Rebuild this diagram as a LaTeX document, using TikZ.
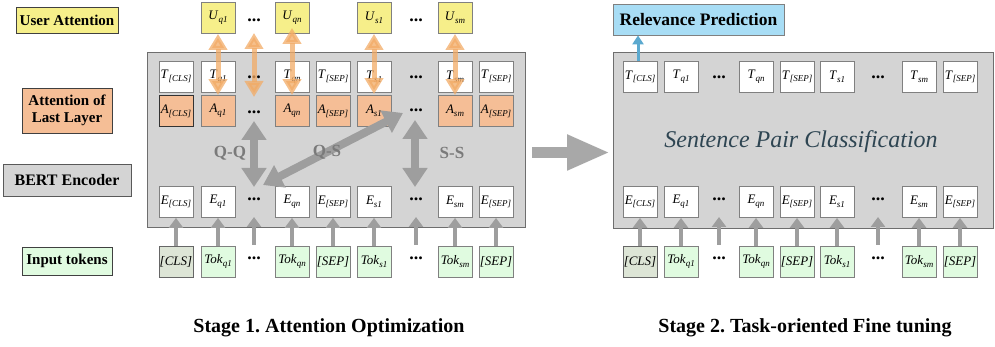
\documentclass[tikz,border=0pt]{standalone}
\usepackage{fontspec}
\setmainfont{Liberation Serif}
\usetikzlibrary{arrows.meta}
\frenchspacing
\definecolor{panelfill}{HTML}{D4D4D4}
\definecolor{panelborder}{HTML}{6E6E6E}
\definecolor{cellborder}{HTML}{808080}
\definecolor{ufill}{HTML}{F6EF8A}
\definecolor{afill}{HTML}{F5BE96}
\definecolor{tokfill}{HTML}{E0FBE0}
\definecolor{clsfill}{HTML}{DDE5D6}
\definecolor{bluefill}{HTML}{A8DDF5}
\definecolor{bluearrow}{HTML}{5BA9CF}
\definecolor{orangearrow}{RGB}{242,171,102}
\definecolor{grayarrow}{HTML}{9E9E9E}
\definecolor{biggray}{HTML}{A8A8A8}
\definecolor{qlabel}{HTML}{7A7A7A}
\definecolor{spc}{HTML}{2E4552}
\newcommand\sbx[2]{\textit{#1}\raisebox{-0.45ex}{\fontsize{9}{9}\selectfont\textit{#2}}}
\newcommand\dts{\textbf{...}}
\begin{document}
\begin{tikzpicture}[x=1pt,y=-1pt,
  panel/.style={draw=panelborder,fill=panelfill,line width=1.3pt},
  cell/.style={draw=cellborder,line width=0.8pt,minimum width=34pt,minimum height=31pt,inner sep=0pt,font=\fontsize{13}{15}\selectfont},
  tcell/.style={cell,fill=white},
  acell/.style={cell,fill=afill},
  ucell/.style={cell,fill=ufill},
  tokcell/.style={cell,fill=tokfill,font=\fontsize{13}{15}\selectfont},
  lbl/.style={draw=black!75,line width=0.8pt,inner sep=0pt,align=center,font=\bfseries\fontsize{15}{16}\selectfont},
  dotsn/.style={inner sep=0pt,font=\fontsize{18}{18}\selectfont},
  orarr/.style={draw=orangearrow,opacity=0.75,line width=5pt,{Triangle[width=18pt,length=16pt]}-{Triangle[width=18pt,length=16pt]}},
  bigarr/.style={draw=grayarrow,line width=8pt,{Triangle[width=24pt,length=19pt]}-{Triangle[width=24pt,length=19pt]}},
  uparr/.style={draw=grayarrow,line width=4.5pt,-{Triangle[width=14pt,length=10pt]}},
  qq/.style={text=qlabel,font=\bfseries\fontsize{17}{17}\selectfont},
  caption/.style={font=\bfseries\fontsize{20}{22}\selectfont}
]
\useasboundingbox (0,0) rectangle (995,347);

% panels
\node[panel,minimum width=378pt,minimum height=175pt,inner sep=0pt,anchor=north west] (P1) at (147,52) {};
\node[panel,minimum width=380pt,minimum height=176pt,inner sep=0pt,anchor=north west] (P2) at (613,52) {};

% left labels
\node[lbl,fill=ufill,minimum width=102pt,minimum height=26pt] (LU) at (67,20) {User Attention};
\node[lbl,fill=afill,minimum width=90pt,minimum height=45pt,font=\bfseries\fontsize{15}{16.5}\selectfont] (LA) at (67,110.5) {Attention of\\Last Layer};
\node[lbl,fill=panelfill,draw=black!65,minimum width=128pt,minimum height=32pt,font=\bfseries\fontsize{16}{17}\selectfont] (LB) at (67,180) {BERT Encoder};
\node[lbl,fill=tokfill,minimum width=90pt,minimum height=28pt] (LI) at (67,261) {Input tokens};

% ---------- Stage 1 ----------
% U row
\node[ucell] (Uq1) at (218,18) {\sbx{U}{q1}};
\node[ucell] (Uqn) at (292,18) {\sbx{U}{qn}};
\node[ucell] (Us1) at (374,18) {\sbx{U}{s1}};
\node[ucell] (Usm) at (455,18) {\sbx{U}{sm}};
\node[dotsn] (Ud1) at (254,20) {\dts};
\node[dotsn] (Ud2) at (416,20) {\dts};

% T row
\node[tcell] (TCLS) at (176,76.5) {\sbx{T}{[CLS]}};
\node[tcell] (Tq1) at (218,76.5) {\sbx{T}{q1}};
\node[tcell] (Tqn) at (292,76.5) {\sbx{T}{qn}};
\node[tcell] (TSEPa) at (333,76.5) {\sbx{T}{[SEP]}};
\node[tcell] (Ts1) at (374,76.5) {\sbx{T}{s1}};
\node[tcell] (Tsm) at (455,76.5) {\sbx{T}{sm}};
\node[tcell] (TSEPb) at (496,76.5) {\sbx{T}{[SEP]}};
\node[dotsn] (Td1) at (254,77) {\dts};
\node[dotsn] (Td2) at (416,77) {\dts};

% A row
\node[acell,draw=black!80] (ACLS) at (176,111) {\sbx{A}{[CLS]}};
\node[acell] (Aq1) at (218,111) {\sbx{A}{q1}};
\node[acell] (Aqn) at (292,111) {\sbx{A}{qn}};
\node[acell] (ASEPa) at (333,111) {\sbx{A}{[SEP]}};
\node[acell] (As1) at (374,111) {\sbx{A}{s1}};
\node[acell] (Asm) at (455,111) {\sbx{A}{sm}};
\node[acell] (ASEPb) at (496,111) {\sbx{A}{[SEP]}};
\node[dotsn] (Ad1) at (254,112) {\dts};
\node[dotsn] (Ad2) at (416,110) {\dts};

% E row
\node[tcell] (ECLS) at (176,202) {\sbx{E}{[CLS]}};
\node[tcell] (Eq1) at (218,202) {\sbx{E}{q1}};
\node[tcell] (Eqn) at (292,202) {\sbx{E}{qn}};
\node[tcell] (ESEPa) at (333,202) {\sbx{E}{[SEP]}};
\node[tcell] (Es1) at (374,202) {\sbx{E}{s1}};
\node[tcell] (Esm) at (455,202) {\sbx{E}{sm}};
\node[tcell] (ESEPb) at (496,202) {\sbx{E}{[SEP]}};
\node[dotsn] (Ed1) at (254,199) {\dts};
\node[dotsn] (Ed2) at (416,199) {\dts};

% Tok row
\node[tokcell,fill=clsfill,draw=black!60] (KCLS) at (176,261.5) {\textit{[CLS]}};
\node[tokcell] (Kq1) at (218,261.5) {\sbx{Tok}{q1}};
\node[tokcell] (Kqn) at (292,261.5) {\sbx{Tok}{qn}};
\node[tokcell] (KSEPa) at (333,261.5) {\textit{[SEP]}};
\node[tokcell] (Ks1) at (374,261.5) {\sbx{Tok}{s1}};
\node[tokcell] (Ksm) at (455,261.5) {\sbx{Tok}{sm}};
\node[tokcell] (KSEPb) at (496,261.5) {\textit{[SEP]}};
\node[dotsn] (Kd1) at (254,258) {\dts};
\node[dotsn] (Kd2) at (416,258) {\dts};

% input arrows
\foreach \a/\b in {KCLS/ECLS,Kq1/Eq1,Kqn/Eqn,KSEPa/ESEPa,Ks1/Es1,Ksm/Esm,KSEPb/ESEPb}
  \draw[uparr] (\a.north) -- (\b.south);
\coordinate (kd1) at (254,245);
\coordinate (kd2) at (416,245);
\coordinate (ed1) at (254,217);
\coordinate (ed2) at (416,217);
\draw[uparr] (kd1) -- (ed1);
\draw[uparr] (kd2) -- (ed2);

% attention arrows
\coordinate (qqtop) at (254,121);
\coordinate (qqbot) at (254,187);
\coordinate (qsbot) at (263,185);
\coordinate (qstop) at (403,113);
\coordinate (sstop) at (415,120);
\coordinate (ssbot) at (415,187);
\draw[bigarr] (qqtop) -- (qqbot);
\draw[bigarr] (qsbot) -- (qstop);
\draw[bigarr] (sstop) -- (ssbot);
\node[qq] (QQ) at (230,153) {Q-Q};
\node[qq] (QS) at (327,152) {Q-S};
\node[qq] (SS) at (452,153) {S-S};

% orange arrows
\coordinate (ud1) at (254,33);
\coordinate (ad1) at (254,97);
\draw[orarr] (Uq1.south) -- (Aq1.north);
\draw[orarr] (ud1) -- (ad1);
\draw[orarr,shorten <=-6pt] (Uqn.south) -- (Aqn.north);
\draw[orarr] (Us1.south) -- ([yshift=1pt]As1.north);
\draw[orarr] (Usm.south) -- (Asm.north);

% big arrow between panels
\draw[draw=biggray,line width=11pt,-{Triangle[width=33pt,length=43pt]},shorten <=6pt,shorten >=3pt] (P1.east |- 0,152.5) -- (P2.west |- 0,152.5);

% ---------- Stage 2 ----------
\node[lbl,fill=bluefill,draw=black!50,minimum width=171pt,minimum height=31pt,font=\bfseries\fontsize{17.5}{18}\selectfont] (RP) at (698.5,19.5) {Relevance Prediction};

\node[tcell] (RTCLS) at (640,77) {\sbx{T}{[CLS]}};
\node[tcell] (RTq1) at (681,77) {\sbx{T}{q1}};
\node[tcell] (RTqn) at (756,77) {\sbx{T}{qn}};
\node[tcell] (RTSEPa) at (797,77) {\sbx{T}{[SEP]}};
\node[tcell] (RTs1) at (837,77) {\sbx{T}{s1}};
\node[tcell] (RTsm) at (919,77) {\sbx{T}{sm}};
\node[tcell] (RTSEPb) at (960,77) {\sbx{T}{[SEP]}};
\node[dotsn] (RTd1) at (719,77) {\dts};
\node[dotsn] (RTd2) at (878,77) {\dts};

\node[text=spc,font=\itshape\fontsize{24}{24}\selectfont] (SPC) at (801,142) {Sentence Pair Classification};

\node[tcell] (REClS) at (640,202) {\sbx{E}{[CLS]}};
\node[tcell] (REq1) at (681,202) {\sbx{E}{q1}};
\node[tcell] (REqn) at (756,202) {\sbx{E}{qn}};
\node[tcell] (RESEPa) at (797,202) {\sbx{E}{[SEP]}};
\node[tcell] (REs1) at (837,202) {\sbx{E}{s1}};
\node[tcell] (REsm) at (919,202) {\sbx{E}{sm}};
\node[tcell] (RESEPb) at (960,202) {\sbx{E}{[SEP]}};
\node[dotsn] (REd1) at (719,199) {\dts};
\node[dotsn] (REd2) at (878,199) {\dts};

\node[tokcell,fill=clsfill,draw=black!60] (RKCLS) at (640,261.5) {\textit{[CLS]}};
\node[tokcell] (RKq1) at (681,261.5) {\sbx{Tok}{q1}};
\node[tokcell] (RKqn) at (756,261.5) {\sbx{Tok}{qn}};
\node[tokcell] (RKSEPa) at (797,261.5) {\textit{[SEP]}};
\node[tokcell] (RKs1) at (837,261.5) {\sbx{Tok}{s1}};
\node[tokcell] (RKsm) at (919,261.5) {\sbx{Tok}{sm}};
\node[tokcell] (RKSEPb) at (960,261.5) {\textit{[SEP]}};
\node[dotsn] (RKd1) at (719,258) {\dts};
\node[dotsn] (RKd2) at (878,258) {\dts};

\foreach \a/\b in {RKCLS/REClS,RKq1/REq1,RKqn/REqn,RKSEPa/RESEPa,RKs1/REs1,RKsm/REsm,RKSEPb/RESEPb}
  \draw[uparr] (\a.north) -- (\b.south);
\coordinate (rkd1) at (719,245);
\coordinate (rkd2) at (878,245);
\coordinate (red1) at (719,217);
\coordinate (red2) at (878,217);
\draw[uparr] (rkd1) -- (red1);
\draw[uparr] (rkd2) -- (red2);

\draw[draw=bluearrow,line width=3pt,-{Triangle[width=11pt,length=9pt]}] (RTCLS.north -| 638,0) -- (RP.south -| 638,0);

% captions
\node[caption] (C1) at (329,328) {Stage 1. Attention Optimization};
\node[caption] (C2) at (805,328) {Stage 2. Task-oriented Fine tuning};
\end{tikzpicture}
\end{document}
